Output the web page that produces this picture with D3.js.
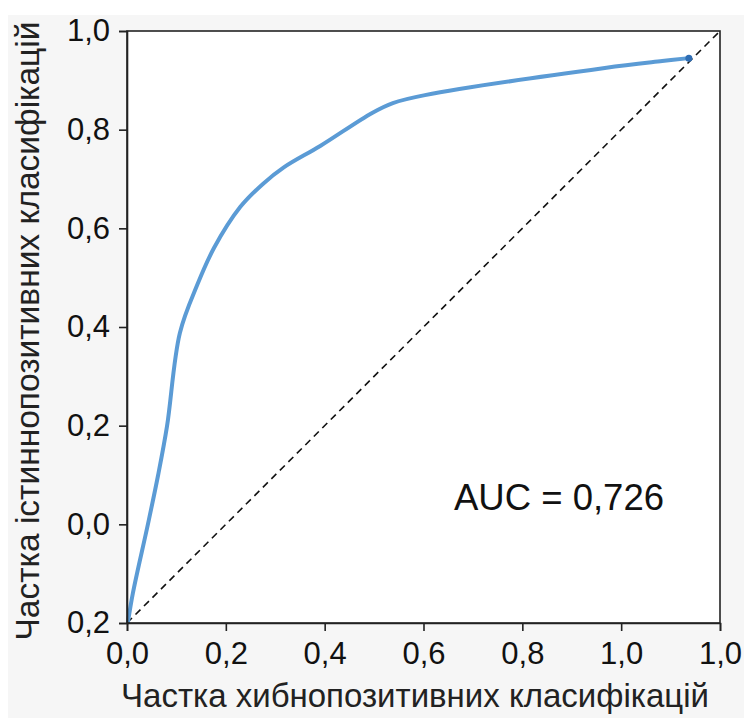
<!DOCTYPE html>
<html>
<head>
<meta charset="utf-8">
<script src="https://cdn.jsdelivr.net/npm/d3@7"></script>
<style>
  html, body { margin: 0; padding: 0; background: #ffffff; }
  svg { display: block; }
</style>
</head>
<body>
<svg id="chart" width="744" height="718"></svg>
<script>
// ---- data ----
const fpr = [0.002, 0.012, 0.0425, 0.063, 0.081, 0.107, 0.142, 0.176, 0.229, 0.275, 0.318, 0.391, 0.496, 0.538, 0.603, 0.967, 1.083, 1.137];
const tpr = [-0.198, -0.139, 0.001, 0.100, 0.199, 0.388, 0.485, 0.560, 0.643, 0.690, 0.724, 0.767, 0.834, 0.854, 0.870, 0.925, 0.939, 0.945];
const xTickValues = [0, 0.2, 0.4, 0.6, 0.8, 1.0, 1.2];
const xTickLabels = ["0,0", "0,2", "0,4", "0,6", "0,8", "1,0", "1,0"];
const yTickValues = [-0.2, 0, 0.2, 0.4, 0.6, 0.8, 1.0];
const yTickLabels = ["0,2", "0,0", "0,2", "0,4", "0,6", "0,8", "1,0"];
const diagonal = [[0, -0.2], [1.2, 1.0]];
const aucText = "AUC = 0,726";
const xTitle = "Частка хибнопозитивних класифікацій";
const yTitle = "Частка істиннопозитивних класифікацій";

// ---- layout ----
const W = 744, H = 718;
const m = { left: 127, top: 31, right: 24, bottom: 95 };
const pw = W - m.left - m.right;   // 593
const ph = H - m.top - m.bottom;   // 592
const font = "'Liberation Sans', Arial, Helvetica, sans-serif";

const svg = d3.select("#chart");
svg.append("rect").attr("x", 8).attr("y", 15).attr("width", W - 8).attr("height", H - 15).attr("fill", "#f6f6f6");

const g = svg.append("g").attr("transform", `translate(${m.left},${m.top})`);

const x = d3.scaleLinear().domain([0, 1.2]).range([0, pw]);
const y = d3.scaleLinear().domain([-0.2, 1.0]).range([ph, 0]);

g.append("rect").attr("width", pw).attr("height", ph).attr("fill", "#ffffff");

// diagonal
g.append("path")
  .attr("d", d3.line().x(d => x(d[0])).y(d => y(d[1]))(diagonal))
  .attr("fill", "none").attr("stroke", "#111").attr("stroke-width", 1.6)
  .attr("stroke-dasharray", "7,5");

// ROC curve
const pts = fpr.map((v, i) => [v, tpr[i]]);
g.append("path")
  .attr("d", d3.line().x(d => x(d[0])).y(d => y(d[1])).curve(d3.curveCatmullRom.alpha(0.5))(pts))
  .attr("fill", "none").attr("stroke", "#5b9bd5").attr("stroke-width", 4)
  .attr("stroke-linejoin", "round").attr("stroke-linecap", "round");

const last = pts[pts.length - 1];
g.append("circle").attr("cx", x(last[0])).attr("cy", y(last[1])).attr("r", 3.5).attr("fill", "#2e6db4");

// frame
g.append("rect").attr("width", pw).attr("height", ph).attr("fill", "none")
  .attr("stroke", "#222").attr("stroke-width", 1.6);

// axes
const xAxis = d3.axisBottom(x).tickValues(xTickValues).tickSize(8).tickPadding(11)
  .tickFormat((d, i) => xTickLabels[i]);
const yAxis = d3.axisLeft(y).tickValues(yTickValues).tickSize(8).tickPadding(9)
  .tickFormat((d, i) => yTickLabels[i]);

const gx = g.append("g").attr("transform", `translate(0,${ph})`).call(xAxis);
const gy = g.append("g").call(yAxis);
[gx, gy].forEach(a => {
  a.select(".domain").attr("stroke", "#222").attr("stroke-width", 1.6);
  a.selectAll(".tick line").attr("stroke", "#222").attr("stroke-width", 1.6);
  a.selectAll(".tick text").attr("fill", "#111").style("font-family", font).style("font-size", "31px");
});

// AUC annotation
g.append("text").attr("x", 327).attr("y", 479)
  .attr("fill", "#111").style("font-family", font).style("font-size", "36.5px")
  .text(aucText);

// axis titles
svg.append("text").attr("x", 415).attr("y", 707)
  .attr("text-anchor", "middle").attr("fill", "#222")
  .style("font-family", font).style("font-size", "33px").text(xTitle);

svg.append("text").attr("transform", `translate(39,${331}) rotate(-90)`)
  .attr("text-anchor", "middle").attr("fill", "#222")
  .style("font-family", font).style("font-size", "33.5px").text(yTitle);
</script>
</body>
</html>
